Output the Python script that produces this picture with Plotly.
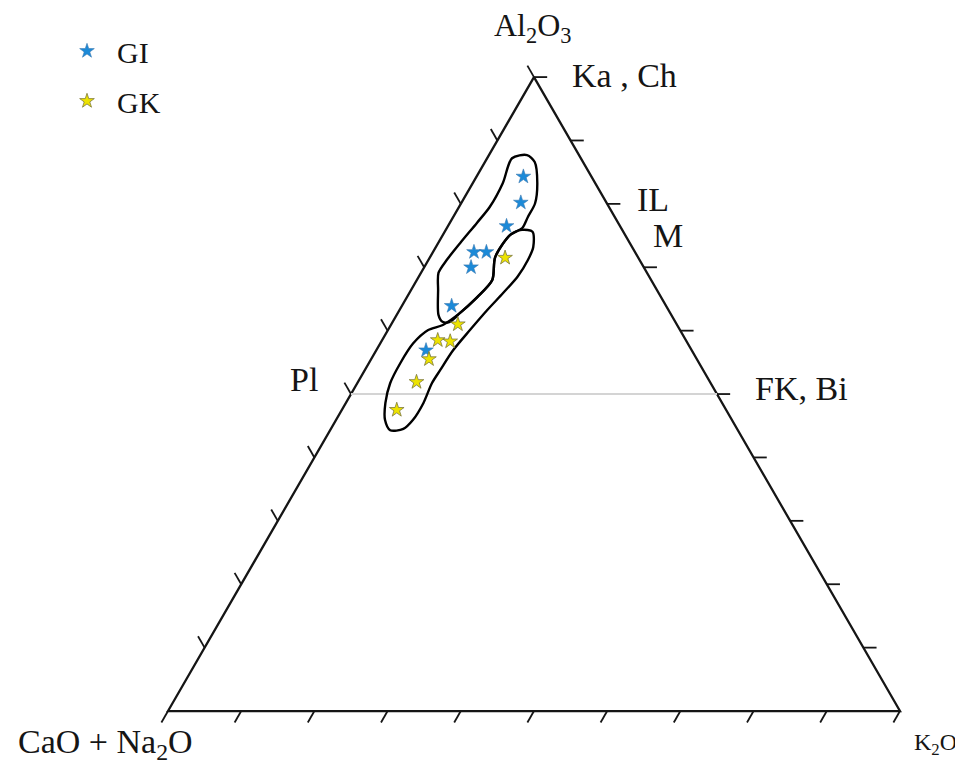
import math
import plotly.graph_objects as go

# ---------------- data (percent of Al2O3 + (CaO+Na2O) + K2O) ----------------
# GI samples
gi_al2o3 = [84.3, 80.2, 76.5, 72.4, 72.4, 70.0, 63.9, 56.9]
gi_k2o = [6.4, 8.1, 8.0, 5.6, 7.3, 6.4, 6.8, 6.8]
# GK samples
gk_al2o3 = [71.5, 61.0, 58.5, 58.3, 55.5, 51.9, 47.5]
gk_k2o = [10.3, 9.1, 7.6, 9.4, 7.9, 8.0, 7.5]

# hand-drawn field outlines
gi_field_al2o3 = [87.2, 87.7, 86.6, 83.3, 80.1, 77.9, 76.2, 75.1, 71.6, 68.0, 65.3,
                  62.8, 61.4, 61.4, 62.5, 66.4, 69.1, 71.1, 73.8, 77.0, 79.5, 83.3]
gi_field_k2o = [3.4, 5.2, 6.8, 8.8, 10.1, 10.2, 10.3, 9.2, 8.9, 10.3, 9.6,
                8.5, 7.8, 6.8, 5.7, 3.7, 2.4, 2.5, 3.0, 3.7, 4.2, 4.1]
gk_field_al2o3 = [75.9, 75.6, 73.2, 71.1, 68.5, 65.9, 63.3, 60.1, 56.9, 53.8, 51.7,
                  48.6, 45.9, 44.5, 44.3, 45.9, 48.6, 51.7, 54.9, 58.0, 60.1, 60.9,
                  62.8, 65.3, 68.0, 71.6, 75.1]
gk_field_k2o = [10.4, 12.0, 13.3, 13.6, 13.5, 12.8, 12.0, 11.2, 10.5, 10.3, 10.2,
                10.6, 10.5, 9.9, 8.2, 6.7, 5.4, 4.5, 4.3, 4.5, 5.5, 7.1,
                8.5, 9.6, 10.3, 8.9, 9.2]

# tick values along every side
tick_values = [0, 10, 20, 30, 40, 50, 60, 70, 80, 90, 100]

# horizontal reference line (Al2O3 = 50 %) from Pl to FK, Bi
ref_al2o3 = [50, 50]
ref_k2o = [0, 50]

# mineral labels: text, Al2O3, K2O
mineral_labels = [
    ("Ka , Ch", 100, 0),
    ("IL", 80, 20),
    ("M", 75, 25),
    ("FK, Bi", 50, 50),
    ("Pl", 50, 0),
]

SQ3 = math.sqrt(3) / 2
TICK_LEN = 1.8
SERIF = "Liberation Serif, Times New Roman, serif"
INK = "#151515"


def to_xy(a, k):
    return k + a / 2.0, a * SQ3


def path(al, k, close=False):
    xs, ys = [], []
    for a_, k_ in zip(al, k):
        x, y = to_xy(a_, k_)
        xs.append(x)
        ys.append(y)
    if close:
        xs.append(xs[0])
        ys.append(ys[0])
    return xs, ys


fig = go.Figure()

# triangle frame
tri_x, tri_y = path([100, 0, 0], [0, 0, 100], close=True)
fig.add_trace(go.Scatter(x=tri_x, y=tri_y, mode="lines",
                         line=dict(color=INK, width=2.3), showlegend=False,
                         hoverinfo="skip"))

# ticks
tx, ty = [], []
for v in tick_values:
    # bottom side (K2O), ticks parallel to left side, pointing down-left
    x0, y0 = to_xy(0, v)
    tx += [x0, x0 - 0.5 * TICK_LEN, None]
    ty += [y0, y0 - SQ3 * TICK_LEN, None]
    if v > 0:
        # right side, horizontal ticks pointing right
        x0, y0 = to_xy(v, 100 - v)
        tx += [x0, x0 + TICK_LEN, None]
        ty += [y0, y0, None]
        # left side, ticks parallel to right side, pointing up-left
        x0, y0 = to_xy(v, 0)
        tx += [x0, x0 - 0.5 * TICK_LEN, None]
        ty += [y0, y0 + SQ3 * TICK_LEN, None]
fig.add_trace(go.Scatter(x=tx, y=ty, mode="lines",
                         line=dict(color=INK, width=1.8), showlegend=False,
                         hoverinfo="skip"))

# reference line
rx, ry = path(ref_al2o3, ref_k2o)
fig.add_trace(go.Scatter(x=rx, y=ry, mode="lines",
                         line=dict(color="#d4d4d4", width=2), showlegend=False,
                         hoverinfo="skip"))

# field outlines
for fa, fk in [(gi_field_al2o3, gi_field_k2o), (gk_field_al2o3, gk_field_k2o)]:
    fx, fy = path(fa, fk, close=True)
    fig.add_trace(go.Scatter(x=fx, y=fy, mode="lines",
                             line=dict(color="#000000", width=2.4, shape="spline",
                                       smoothing=0.8),
                             showlegend=False, hoverinfo="skip"))

# samples
gx, gy = path(gi_al2o3, gi_k2o)
fig.add_trace(go.Scatter(x=gx, y=gy, mode="markers", name="GI",
                         legendgroup="gi",
                         marker=dict(symbol="star", size=11, color="#1c8ad8",
                                     line=dict(color="#3a78b0", width=0.6))))
kx, ky = path(gk_al2o3, gk_k2o)
fig.add_trace(go.Scatter(x=kx, y=ky, mode="markers", name="GK",
                         legendgroup="gk",
                         marker=dict(symbol="star", size=11, color="#ede300",
                                     line=dict(color="#7d7a3c", width=0.8))))

annotations = []
label_shift = {
    "Ka , Ch": (36, 2, "left"),
    "IL": (28, 4, "left"),
    "M": (26, 0, "left"),
    "FK, Bi": (36, 6, "left"),
    "Pl": (-31, 15, "right"),
}
for text, a_, k_ in mineral_labels:
    x, y = to_xy(a_, k_)
    dx, dy, anc = label_shift[text]
    annotations.append(dict(x=x, y=y, xref="x", yref="y", text=text,
                            showarrow=False, xanchor=anc, yanchor="middle",
                            xshift=dx, yshift=dy,
                            font=dict(family=SERIF, size=34, color=INK)))

# apex titles
ax_, ay_ = to_xy(100, 0)
annotations.append(dict(x=ax_, y=ay_, xref="x", yref="y",
                        text="Al<sub>2</sub>O<sub>3</sub>", showarrow=False,
                        xanchor="center", yanchor="middle", xshift=-1, yshift=50,
                        font=dict(family=SERIF, size=32, color=INK)))
bx_, by_ = to_xy(0, 0)
annotations.append(dict(x=bx_, y=by_, xref="x", yref="y",
                        text="CaO + Na<sub>2</sub>O", showarrow=False,
                        xanchor="center", yanchor="middle", xshift=-63, yshift=-33,
                        font=dict(family=SERIF, size=34, color=INK)))
cx_, cy_ = to_xy(0, 100)
annotations.append(dict(x=cx_, y=cy_, xref="x", yref="y",
                        text="K<sub>2</sub>O", showarrow=False,
                        xanchor="left", yanchor="middle", xshift=12, yshift=-33,
                        font=dict(family=SERIF, size=24, color=INK)))

# the page body adds an 8 px offset, so the figure is 8 px smaller each way
fig.update_layout(
    width=955, height=758,
    margin=dict(l=0, r=0, t=0, b=0),
    paper_bgcolor="white", plot_bgcolor="white",
    xaxis=dict(range=[-21.86, 108.61], visible=False, fixedrange=True),
    yaxis=dict(range=[-7.51, 96.04], visible=False, fixedrange=True),
    showlegend=True,
    legend=dict(x=49 / 955, y=1 - 17 / 758, xanchor="left", yanchor="top",
                itemwidth=50, tracegroupgap=8, bgcolor="rgba(0,0,0,0)",
                font=dict(family=SERIF, size=30, color=INK)),
    annotations=annotations,
)

fig.write_html("out.html")
